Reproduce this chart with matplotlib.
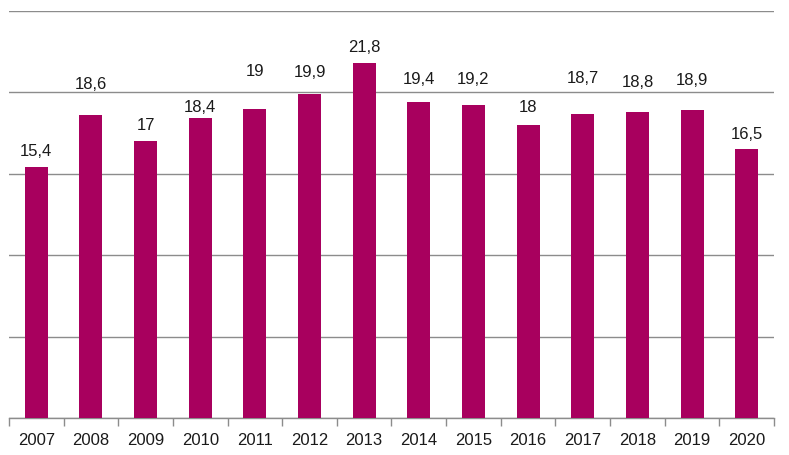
import matplotlib
matplotlib.use("Agg")
import matplotlib.pyplot as plt
import numpy as np

years = ["2007", "2008", "2009", "2010", "2011", "2012", "2013", "2014",
         "2015", "2016", "2017", "2018", "2019", "2020"]
values = [15.4, 18.6, 17.0, 18.4, 19.0, 19.9, 21.8, 19.4, 19.2, 18.0, 18.7, 18.8, 18.9, 16.5]
labels = ["15,4", "18,6", "17", "18,4", "19", "19,9", "21,8", "19,4", "19,2", "18", "18,7", "18,8", "18,9", "16,5"]
# label center offsets above bar top (pixels), as placed in the original
label_offsets_px = [16.5, 32, 17, 11.5, 38, 23, 17, 24, 27, 18, 36, 30, 31, 16]

plt.rcParams['font.family'] = ['Liberation Sans', 'DejaVu Sans']

W, H = 789, 456
fig = plt.figure(figsize=(W / 100, H / 100), dpi=100)
ax = fig.add_axes([9 / W, (H - 419) / H, (774 - 9) / W, (419 - 12) / H])

x = np.arange(len(years))
bar_color = "#A8005E"
ax.bar(x, values, width=0.42, color=bar_color, zorder=3)

ax.set_xlim(-0.5, len(years) - 0.5)
ax.set_ylim(0, 25)
ax.set_yticks(np.arange(0, 26, 5))
ax.yaxis.grid(True, color="#8C8C8C", linewidth=1.0)
ax.tick_params(axis="y", left=False, labelleft=False)
for s in ["left", "right", "top"]:
    ax.spines[s].set_visible(False)
ax.spines["bottom"].set_color("#8C8C8C")
ax.spines["bottom"].set_linewidth(1.0)

ax.set_xticks(x)
ax.set_xticklabels(years, fontsize=12, color="#1a1a1a")
ax.tick_params(axis="x", which="major", length=0, pad=10)
ax.set_xticks(np.arange(-0.5, len(years), 1.0), minor=True)
ax.tick_params(axis="x", which="minor", length=6, color="#8C8C8C", width=1.0)

for xi, v, lab, off in zip(x, values, labels, label_offsets_px):
    ax.annotate(lab, (xi, v), xytext=(0, off * 0.72), textcoords="offset points",
                ha="center", va="center", fontsize=12, color="#1a1a1a")

fig.savefig("out.png", dpi=100)
